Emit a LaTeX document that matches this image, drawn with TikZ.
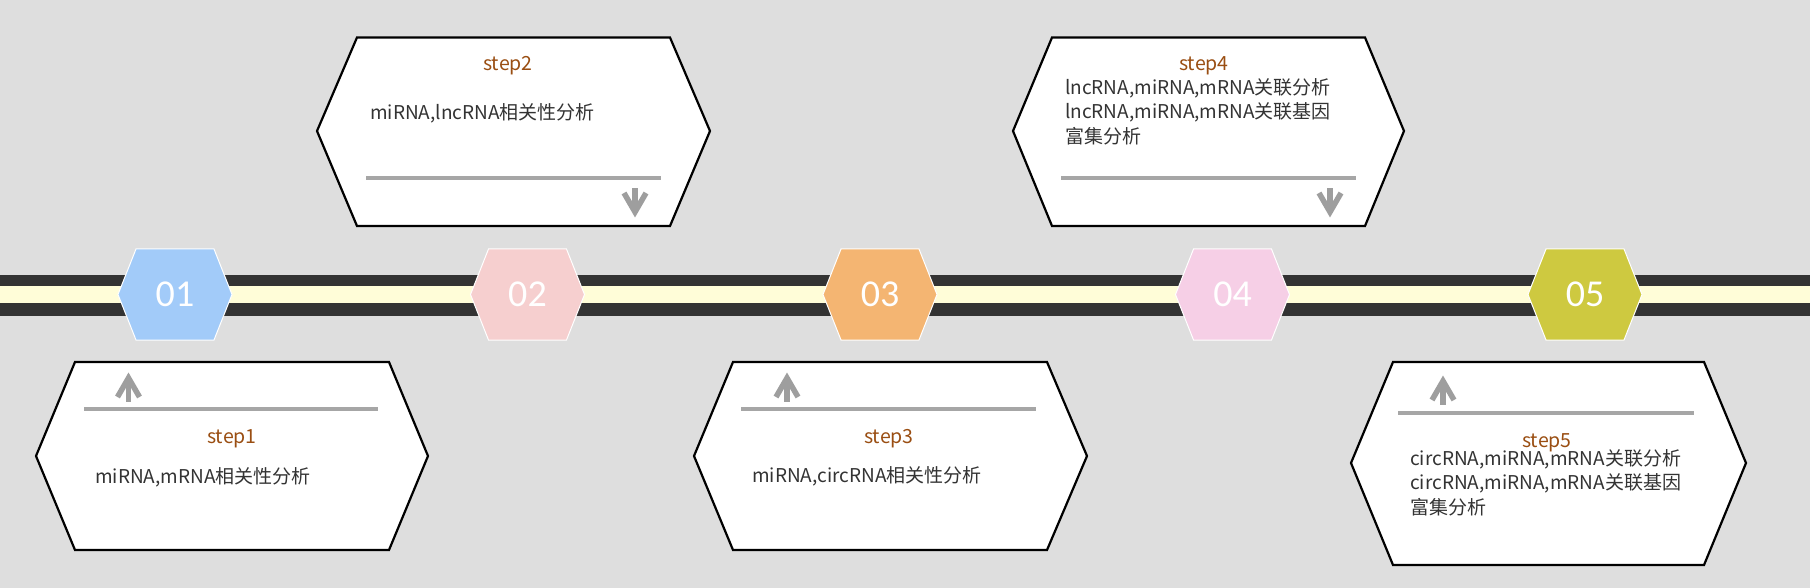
\documentclass[tikz,border=0pt]{standalone}
\usepackage{fontspec}
\setmainfont{Noto Sans CJK SC}
\newfontfamily\numfont{Carlito}
\definecolor{bggray}{HTML}{DEDEDE}
\definecolor{banddark}{HTML}{333333}
\definecolor{bandlight}{HTML}{FFFDD8}
\definecolor{hexblue}{HTML}{A2CBF9}
\definecolor{hexrose}{HTML}{F6CFCF}
\definecolor{hexorange}{HTML}{F4B572}
\definecolor{hexpink}{HTML}{F6CFE6}
\definecolor{hexolive}{HTML}{CEC940}
\definecolor{rulegray}{HTML}{A6A6A6}
\definecolor{stepbrown}{HTML}{9A4E12}
\definecolor{textgray}{HTML}{333333}
\begin{document}
\begin{tikzpicture}[x=1pt,y=-1pt,
	card/.style={draw=black,line width=2.2pt,fill=white,line join=miter},
	rulebar/.style={draw=rulegray,line width=4pt},
	arrowmark/.style={draw=rulegray!95!black,line width=5.5pt,line join=miter},
	badge/.style={draw=white,line width=1pt},
	badgenum/.style={text=white,font=\numfont\fontsize{38}{40}\selectfont},
	steptitle/.style={text=stepbrown,font=\fontsize{19.5}{24}\selectfont},
	steptext/.style={text=textgray,font=\fontsize{19}{24.5}\selectfont,anchor=west,align=left,inner sep=0pt}]
		\fill[bggray] (0,0) rectangle (1810,588);
		\useasboundingbox (0,0) rectangle (1810,588);

		\fill[banddark] (0,275) rectangle (1810,316);
		\fill[bandlight] (0,286) rectangle (1810,303);

		\foreach \i/\col in {1/hexblue,2/hexrose,3/hexorange,4/hexpink,5/hexolive}{
			\pgfmathsetmacro{\cx}{175+352.5*(\i-1)}
			\draw[badge,fill=\col] (\cx-57,294.5) -- (\cx-39,249) -- (\cx+39,249) -- (\cx+57,294.5) -- (\cx+39,340) -- (\cx-39,340) -- cycle;
			\node[badgenum] (n\i) at (\cx,294.5) {0\i};
		}

		\draw[card] (36,456) -- (75,362) -- (389,362) -- (428,456) -- (389,550) -- (75,550) -- cycle;
		\draw[card] (317,131) -- (357,37.5) -- (670,37.5) -- (710,131) -- (670,226) -- (357,226) -- cycle;
		\draw[card] (694,456) -- (733,362) -- (1047,362) -- (1087,456) -- (1047,550) -- (733,550) -- cycle;
		\draw[card] (1013,131) -- (1052,37.5) -- (1365,37.5) -- (1404,131) -- (1365,226) -- (1052,226) -- cycle;
		\draw[card] (1351,463) -- (1393,362) -- (1704,362) -- (1746,463) -- (1704,565) -- (1393,565) -- cycle;

		\draw[rulebar] (84,408.5) -- (378,408.5);
		\draw[rulebar] (366,178.5) -- (661,178.5);
		\draw[rulebar] (741,408.5) -- (1036,408.5);
		\draw[rulebar] (1061,178.5) -- (1356,178.5);
		\draw[rulebar] (1398,413) -- (1694,413);

		\foreach \x/\y in {128.5/378,787/378,1443/381}{
			\draw[arrowmark] (\x,\y) -- (\x,\y+24);
			\draw[arrowmark] (\x-11,\y+19) -- (\x,\y) -- (\x+11,\y+19);
		}
		\foreach \x/\y in {635/212,1330/212}{
			\draw[arrowmark] (\x,\y) -- (\x,\y-24);
			\draw[arrowmark] (\x-11,\y-19) -- (\x,\y) -- (\x+11,\y-19);
		}

		\node[steptitle] (t1) at (232,439) {step1};
		\node[steptitle] (t2) at (508,66) {step2};
		\node[steptitle] (t3) at (889,439) {step3};
		\node[steptitle] (t4) at (1204,66) {step4};
		\node[steptitle] (t5) at (1547,443) {step5};

		\node[steptext] (b1) at (95,477) {miRNA,mRNA相关性分析};
		\node[steptext] (b2) at (370,113) {miRNA,lncRNA相关性分析};
		\node[steptext] (b3) at (752,476) {miRNA,circRNA相关性分析};
		\node[steptext,anchor=north west] (b4) at (1065,78) {lncRNA,miRNA,mRNA关联分析\\lncRNA,miRNA,mRNA关联基因\\富集分析};
		\node[steptext,anchor=north west] (b5) at (1410,449) {circRNA,miRNA,mRNA关联分析\\circRNA,miRNA,mRNA关联基因\\富集分析};
\end{tikzpicture}
\end{document}
